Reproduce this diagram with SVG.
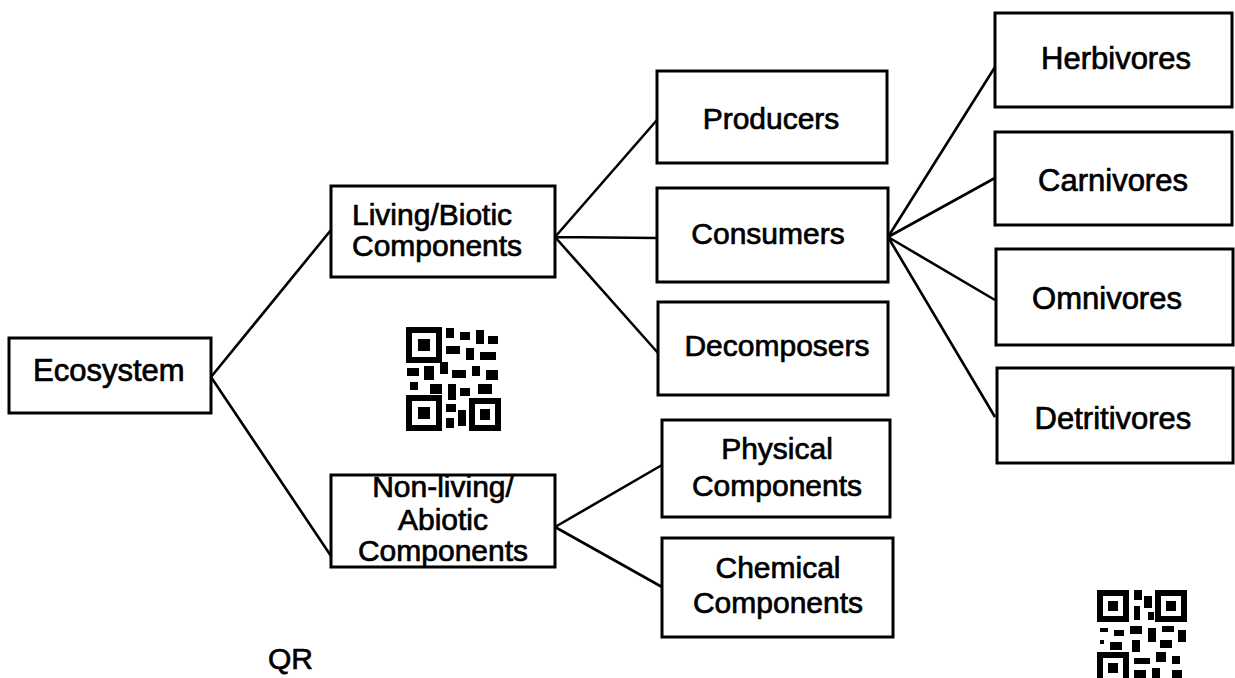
<svg xmlns="http://www.w3.org/2000/svg" width="1235" height="678" viewBox="0 0 1235 678">
<style>
.box{fill:#fff;stroke:#000;stroke-width:3}
.lbl{font-family:"Liberation Sans",Arial,sans-serif;font-size:30px;fill:#000;stroke:#000;stroke-width:0.7}
.big{font-size:31px}
.c{text-anchor:middle}
.ln{stroke:#000;stroke-width:2.6;fill:none}
.q{fill:#000}
</style>
<rect width="1235" height="678" fill="#fff"/>
<g id="connectors">
<path class="ln" d="M211,377 L331,230 M211,377 L331,556"/>
<path class="ln" d="M555,237 L657,120 M555,237 L657,238 M555,237 L658,353"/>
<path class="ln" d="M555,527 L662,465 M555,527 L662,587"/>
<path class="ln" d="M888,237 L995,67 M888,237 L995,178 M888,237 L995,300 M888,237 L995,417"/>
</g>
<g id="ecosystem"><rect class="box" x="9" y="338" width="202" height="75"/><text class="lbl big" x="33" y="381">Ecosystem</text></g>
<g id="living"><rect class="box" x="331" y="186" width="224" height="91"/><text class="lbl" x="352" y="225">Living/Biotic</text><text class="lbl" x="352" y="256">Components</text></g>
<g id="nonliving"><rect class="box" x="331" y="475" width="224" height="92"/><text class="lbl c" x="443" y="497">Non-living/</text><text class="lbl c" x="443" y="530">Abiotic</text><text class="lbl c" x="443" y="561">Components</text></g>
<g id="producers"><rect class="box" x="657" y="71" width="230" height="92"/><text class="lbl c" x="771" y="129">Producers</text></g>
<g id="consumers"><rect class="box" x="657" y="188" width="231" height="94"/><text class="lbl c" x="768" y="244">Consumers</text></g>
<g id="decomposers"><rect class="box" x="658" y="302" width="230" height="93"/><text class="lbl c" x="777" y="356">Decomposers</text></g>
<g id="physical"><rect class="box" x="662" y="420" width="228" height="97"/><text class="lbl c" x="777" y="459">Physical</text><text class="lbl c" x="777" y="496">Components</text></g>
<g id="chemical"><rect class="box" x="662" y="538" width="231" height="99"/><text class="lbl c" x="778" y="578">Chemical</text><text class="lbl c" x="778" y="613">Components</text></g>
<g id="herbivores"><rect class="box" x="995" y="13" width="237" height="94"/><text class="lbl big c" x="1116" y="69">Herbivores</text></g>
<g id="carnivores"><rect class="box" x="995" y="132" width="237" height="93"/><text class="lbl big c" x="1113" y="191">Carnivores</text></g>
<g id="omnivores"><rect class="box" x="996" y="249" width="237" height="96"/><text class="lbl big c" x="1107" y="309">Omnivores</text></g>
<g id="detritivores"><rect class="box" x="997" y="368" width="236" height="95"/><text class="lbl big c" x="1113" y="429">Detritivores</text></g>
<g id="qr1">
<rect x="409" y="330" width="30" height="30" fill="none" stroke="#000" stroke-width="6"/><rect class="q" x="418" y="339" width="12" height="12"/>
<rect x="409" y="398" width="30" height="30" fill="none" stroke="#000" stroke-width="6"/><rect class="q" x="418" y="407" width="12" height="12"/>
<rect x="472" y="401" width="26" height="27" fill="none" stroke="#000" stroke-width="6"/><rect class="q" x="480" y="409" width="10" height="11"/>
<path class="q" d="M446,328h8v10h-8z M460,332h10v8h-10z M476,330h8v14h-8z M488,336h10v8h-10z M446,346h14v8h-14z M466,348h8v12h-8z M480,352h16v8h-16z M407,368h12v8h-12z M424,366h10v14h-10z M440,362h8v12h-8z M452,370h14v8h-14z M472,366h8v10h-8z M486,370h12v10h-12z M410,382h8v8h-8z M430,384h12v10h-12z M448,384h8v16h-8z M460,388h10v8h-10z M478,384h14v10h-14z M446,404h10v8h-10z M458,410h8v16h-8z M446,418h8v10h-8z"/>
</g>
<g id="qr2">
<rect x="1100" y="593" width="26" height="26" fill="none" stroke="#000" stroke-width="6"/><rect class="q" x="1108" y="601" width="10" height="10"/>
<rect x="1158" y="593" width="26" height="26" fill="none" stroke="#000" stroke-width="6"/><rect class="q" x="1166" y="601" width="10" height="10"/>
<rect x="1100" y="655" width="26" height="26" fill="none" stroke="#000" stroke-width="6"/><rect class="q" x="1108" y="663" width="10" height="10"/>
<path class="q" d="M1134,590h8v10h-8z M1144,596h8v12h-8z M1134,606h6v14h-6z M1148,612h6v8h-6z M1100,628h8v4h-8z M1114,630h10v6h-10z M1130,626h12v8h-12z M1148,628h8v14h-8z M1162,626h12v6h-12z M1178,630h8v12h-8z M1100,640h4v4h-4z M1110,642h12v8h-12z M1132,640h8v12h-8z M1160,640h12v8h-12z M1134,658h16v6h-16z M1156,652h10v10h-10z M1172,656h8v8h-8z M1134,670h12v8h-12z M1152,668h8v10h-8z M1172,670h10v8h-10z"/>
</g>
<text class="lbl" x="268" y="669">QR</text>
</svg>
